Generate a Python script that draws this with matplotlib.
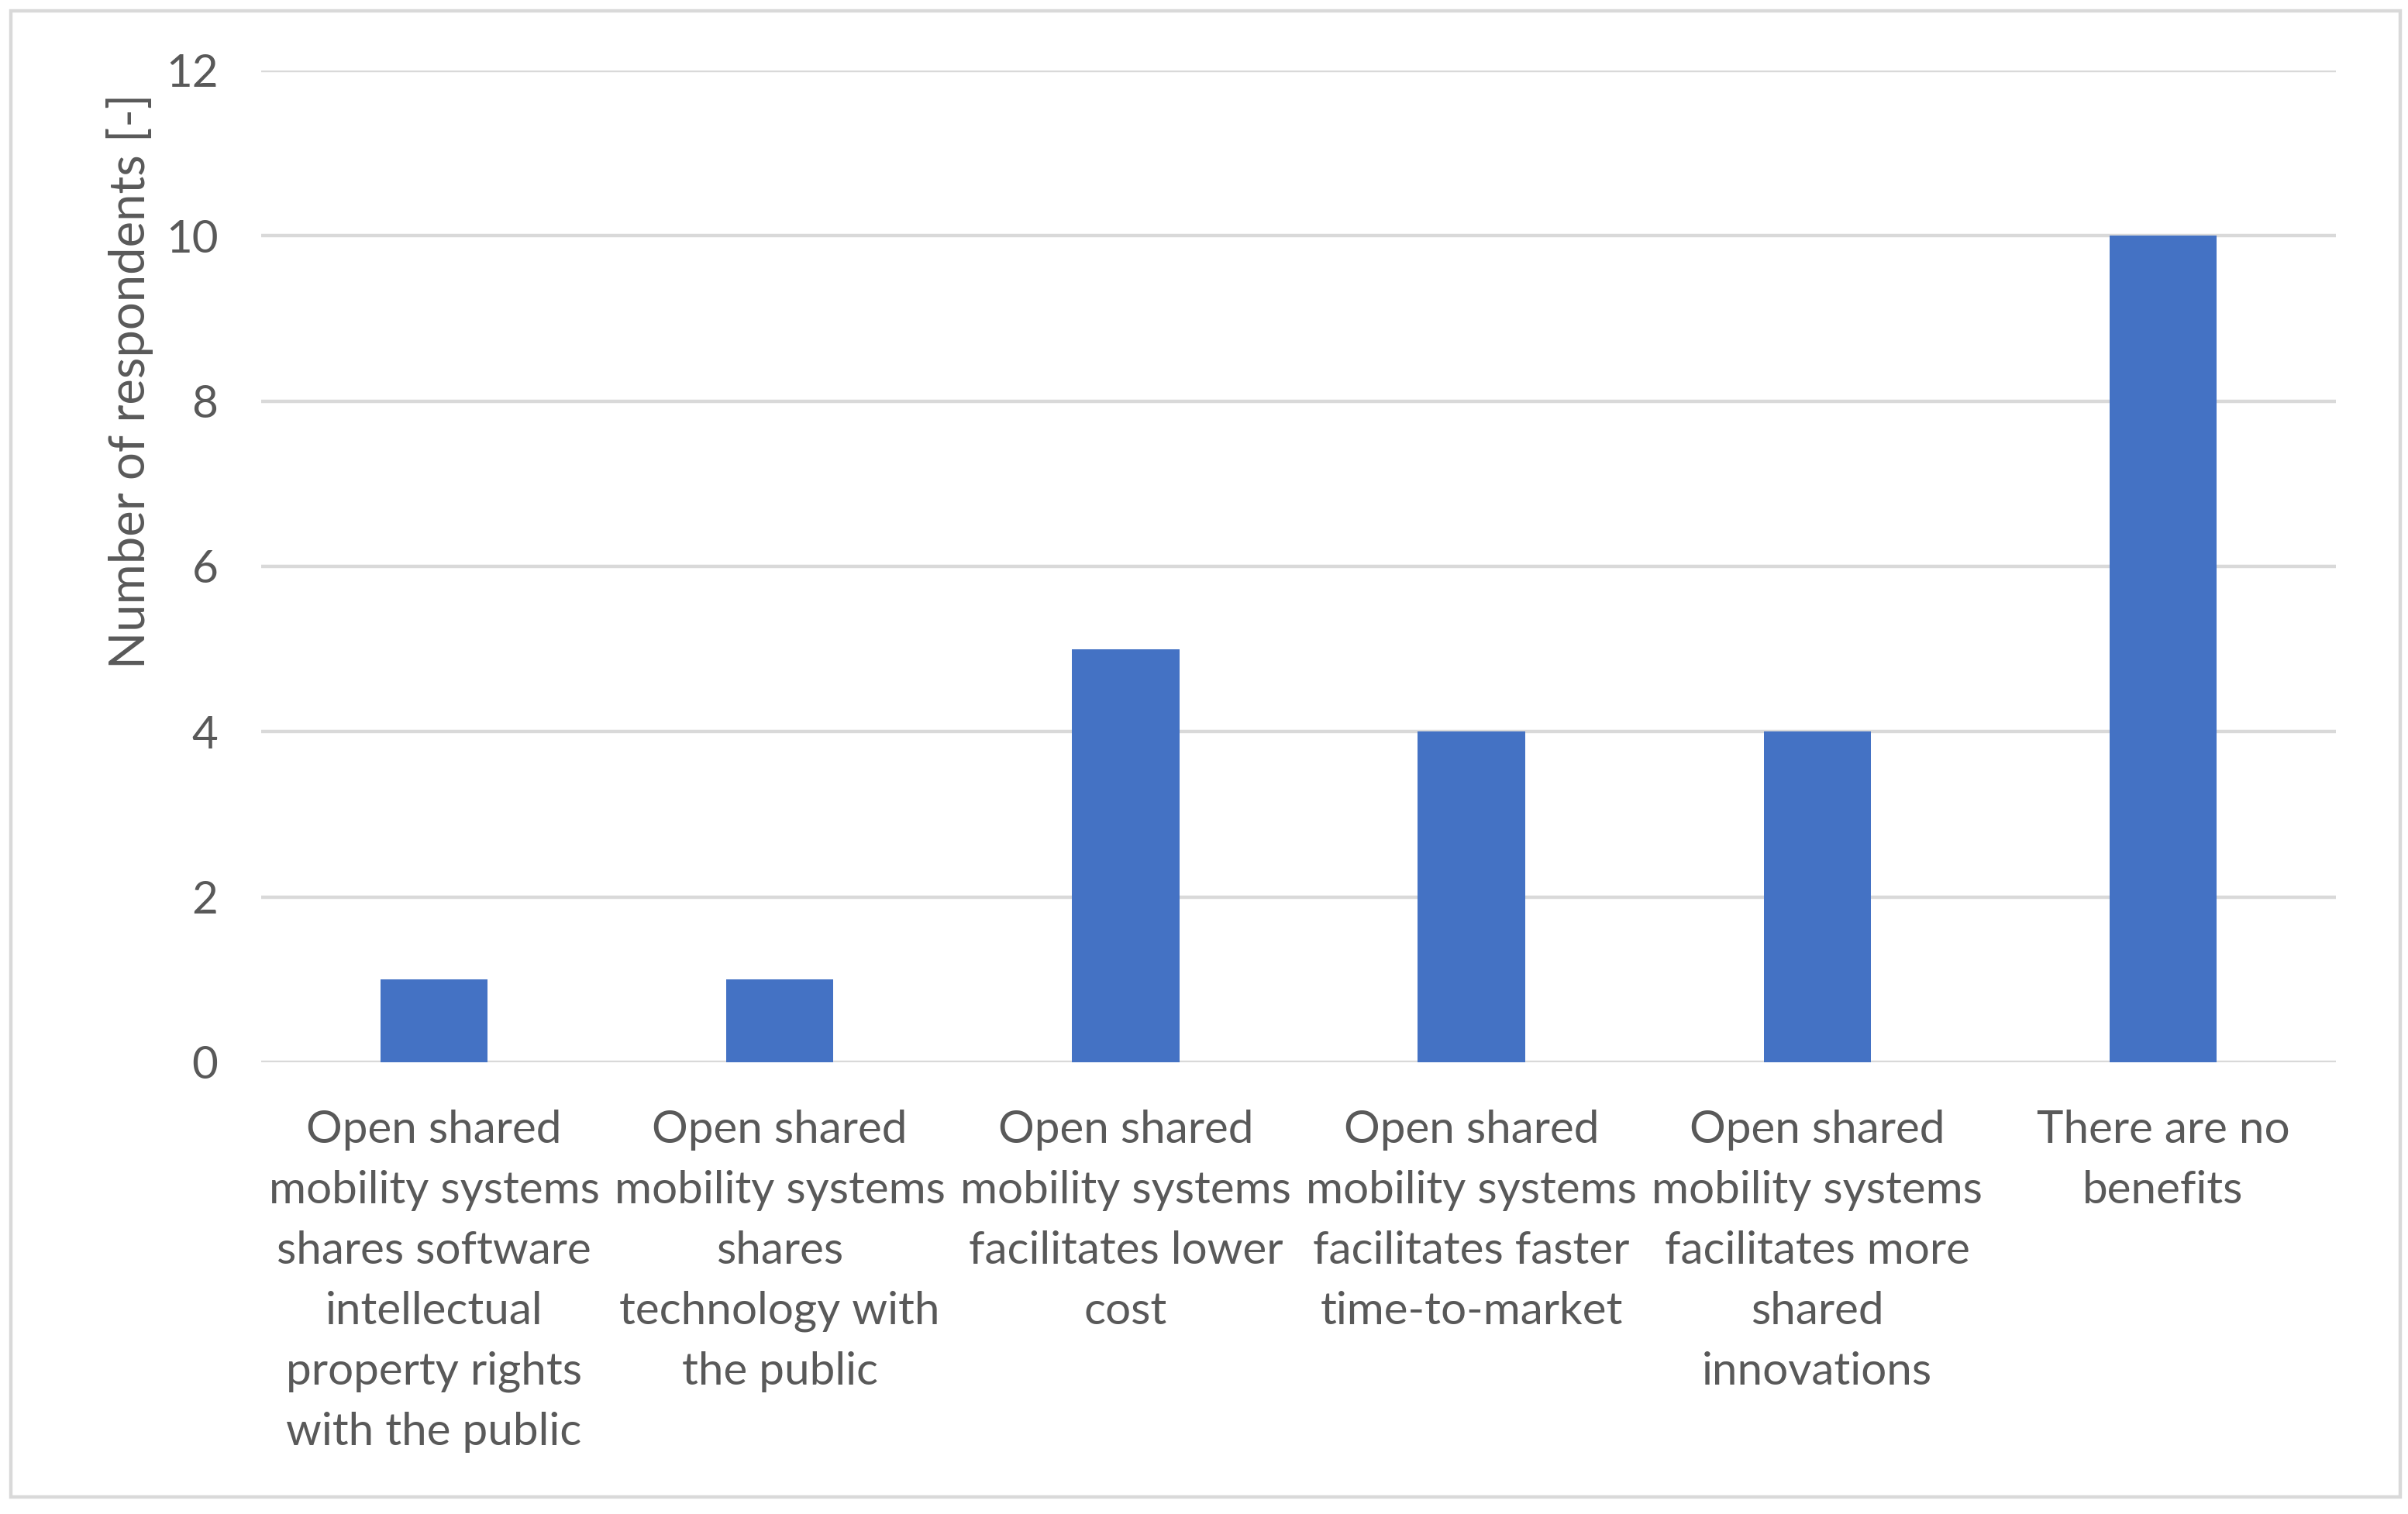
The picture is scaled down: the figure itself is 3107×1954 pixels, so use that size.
import matplotlib
matplotlib.use('Agg')
from matplotlib import pyplot as plt
from matplotlib.patches import Rectangle

categories = [
    'Open shared\nmobility systems\nshares software\nintellectual\nproperty rights\nwith the public',
    'Open shared\nmobility systems\nshares\ntechnology with\nthe public',
    'Open shared\nmobility systems\nfacilitates lower\ncost',
    'Open shared\nmobility systems\nfacilitates faster\ntime-to-market',
    'Open shared\nmobility systems\nfacilitates more\nshared\ninnovations',
    'There are no\nbenefits',
]
respondents = [1, 1, 5, 4, 4, 10]
yticks = [0, 2, 4, 6, 8, 10, 12]

textColor = '#595959'
gridColor = '#D9D9D9'
barColor = '#4472C4'

plt.rcParams['font.family'] = ['Lato', 'DejaVu Sans']

W, H = 3107, 1954
dpi = 200
fig = plt.figure(figsize=(W / dpi, H / dpi), dpi=dpi)
fig.patch.set_facecolor('white')

ax = fig.add_axes([337 / W, 1 - 1371 / H, (3014 - 337) / W, (1371 - 91) / H])
x = list(range(len(categories)))
ax.bar(x, respondents, width=0.31, color=barColor, zorder=3)

ax.set_xlim(-0.5, len(categories) - 0.5)
ax.set_ylim(0, 12)
ax.set_yticks(yticks)
ax.set_xticks(x)
ax.set_xticklabels(categories, fontsize=21.3, color=textColor, linespacing=1.58)
ax.tick_params(axis='both', length=0, labelsize=21, labelcolor=textColor)
ax.tick_params(axis='y', pad=20)
ax.tick_params(axis='x', pad=22)
for s in ax.spines.values():
    s.set_visible(False)
ax.grid(axis='y', color=gridColor, linewidth=1.6, zorder=0)

fig.text(168 / W, 1 - 492 / H, 'Number of respondents [-]', rotation=90,
         ha='center', va='center', fontsize=22.8, color=textColor)

# chart border
fig.patches.append(Rectangle((14 / W, 1 - 1932 / H), (3097 - 14) / W, (1932 - 14) / H,
                             transform=fig.transFigure, fill=False,
                             edgecolor=gridColor, linewidth=1.6))

fig.savefig('out.png', dpi=dpi)
